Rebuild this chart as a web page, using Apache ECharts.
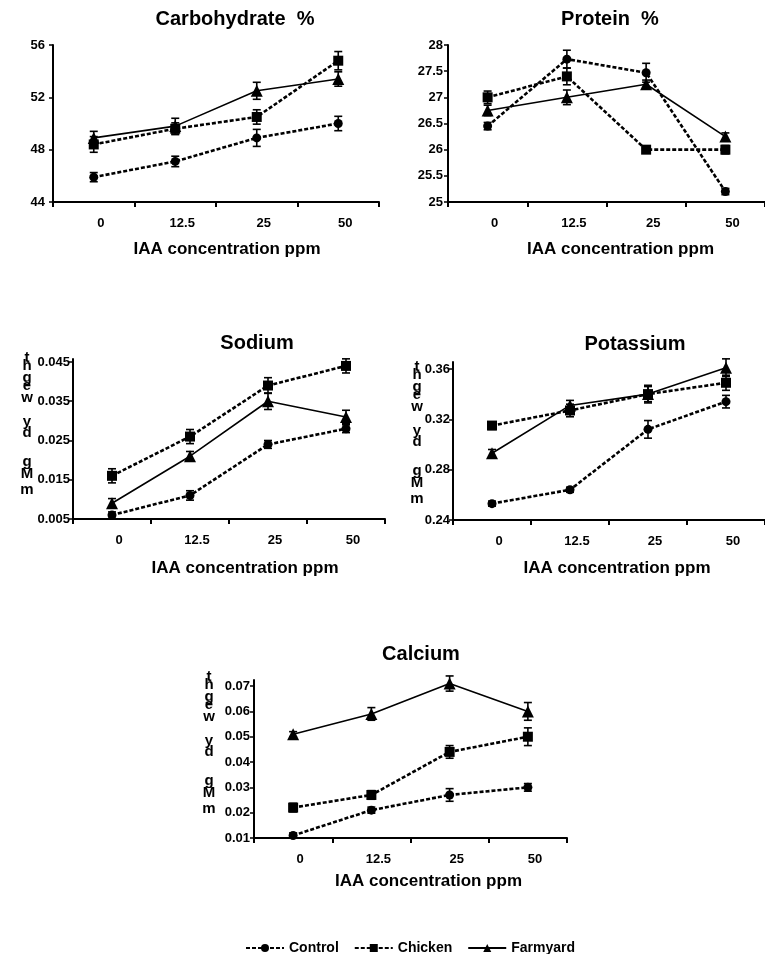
<!DOCTYPE html>
<html><head><meta charset="utf-8">
<script src="https://cdn.jsdelivr.net/npm/echarts@6/dist/echarts.min.js"></script>
<style>html,body{margin:0;padding:0;background:#fff}#c{width:765px;height:954px}</style>
</head><body><div id="c"></div>
<script>
const categories = ['0', '12.5', '25', '50'];
const seriesNames = ['Control', 'Chicken', 'Farmyard'];

// Carbohydrate %
const carbTitle = 'Carbohydrate  %';
const carbTicks = [44, 48, 52, 56];
const carbControl = [45.9, 47.1, 48.9, 50.0];
const carbControlErr = [0.35, 0.4, 0.65, 0.55];
const carbChicken = [48.4, 49.6, 50.5, 54.8];
const carbChickenErr = [0.6, 0.45, 0.55, 0.7];
const carbFarmyard = [48.9, 49.8, 52.5, 53.4];
const carbFarmyardErr = [0.5, 0.6, 0.65, 0.55];

// Protein %
const protTitle = 'Protein  %';
const protTicks = [25, 25.5, 26, 26.5, 27, 27.5, 28];
const protControl = [26.45, 27.73, 27.47, 25.2];
const protControlErr = [0.07, 0.17, 0.18, 0.06];
const protChicken = [27.0, 27.4, 26.0, 26.0];
const protChickenErr = [0.12, 0.16, 0.06, 0.08];
const protFarmyard = [26.75, 27.0, 27.25, 26.25];
const protFarmyardErr = [0.1, 0.14, 0.08, 0.07];

// Sodium
const naTitle = 'Sodium';
const naTicks = [0.005, 0.015, 0.025, 0.035, 0.045];
const naControl = [0.006, 0.011, 0.024, 0.028];
const naControlErr = [0.0008, 0.0012, 0.001, 0.001];
const naChicken = [0.016, 0.026, 0.039, 0.044];
const naChickenErr = [0.0018, 0.0018, 0.002, 0.0018];
const naFarmyard = [0.009, 0.021, 0.035, 0.031];
const naFarmyardErr = [0.0012, 0.0012, 0.0021, 0.0017];

// Potassium
const kTitle = 'Potassium';
const kTicks = [0.24, 0.28, 0.32, 0.36];
const kControl = [0.253, 0.264, 0.312, 0.334];
const kControlErr = [0.002, 0.002, 0.007, 0.005];
const kChicken = [0.315, 0.327, 0.340, 0.349];
const kChickenErr = [0.003, 0.005, 0.007, 0.006];
const kFarmyard = [0.293, 0.331, 0.340, 0.361];
const kFarmyardErr = [0.003, 0.004, 0.006, 0.007];

// Calcium
const caTitle = 'Calcium';
const caTicks = [0.01, 0.02, 0.03, 0.04, 0.05, 0.06, 0.07];
const caControl = [0.011, 0.021, 0.027, 0.030];
const caControlErr = [0.001, 0.0012, 0.0025, 0.0015];
const caChicken = [0.022, 0.027, 0.044, 0.050];
const caChickenErr = [0.0017, 0.0017, 0.0025, 0.0035];
const caFarmyard = [0.051, 0.059, 0.071, 0.060];
const caFarmyardErr = [0.001, 0.0025, 0.003, 0.0035];

const xAxisName = 'IAA concentration ppm';
const yAxisLetters = ['t', 'h', 'g', 'e', 'w', 'y', 'd', 'g', 'M', 'm'];

const FONT = '"Liberation Sans", Arial, sans-serif';

const panels = [
  {title: carbTitle, ticks: carbTicks, min: 44, max: 56, data: [carbControl, carbChicken, carbFarmyard], err: [carbControlErr, carbChickenErr, carbFarmyardErr],
   grid: {left: 53, top: 45, width: 326, height: 157}, titleX: 230, titleY: 4, namePad: 22, nameGap: 39, labelMargin: 8, yLetters: null},
  {title: protTitle, ticks: protTicks, min: 25, max: 28, data: [protControl, protChicken, protFarmyard], err: [protControlErr, protChickenErr, protFarmyardErr],
   grid: {left: 448, top: 45, width: 320, height: 157}, titleX: 605, titleY: 4, namePad: 28, nameGap: 39, labelMargin: 5, yLetters: null},
  {title: naTitle, ticks: naTicks, min: 0.005, max: 0.04576, data: [naControl, naChicken, naFarmyard], err: [naControlErr, naChickenErr, naFarmyardErr],
   grid: {left: 73, top: 359, width: 312, height: 160}, titleX: 252, titleY: 328, namePad: 32, nameGap: 41, labelMargin: 3, yLetters: {x: 27, y: 358}},
  {title: kTitle, ticks: kTicks, min: 0.24, max: 0.3655, data: [kControl, kChicken, kFarmyard], err: [kControlErr, kChickenErr, kFarmyardErr],
   grid: {left: 453, top: 362, width: 312, height: 158}, titleX: 630, titleY: 329, namePad: 16, nameGap: 40, labelMargin: 3, yLetters: {x: 417, y: 367}},
  {title: caTitle, ticks: caTicks, min: 0.01, max: 0.0724, data: [caControl, caChicken, caFarmyard], err: [caControlErr, caChickenErr, caFarmyardErr],
   grid: {left: 254, top: 680, width: 313, height: 158}, titleX: 416, titleY: 639, namePad: 36, nameGap: 35, labelMargin: 4, yLetters: {x: 209, y: 677}}
];

const letterOffsets = [0, 8, 20, 28, 40, 64, 75, 104, 116, 132];

const styles = [
  {symbol: 'circle', symbolSize: 9, lineType: [4, 2], lineWidth: 2.6},
  {symbol: 'rect', symbolSize: 10, lineType: [4, 2], lineWidth: 2.6},
  {symbol: 'triangle', symbolSize: 12, lineType: 'solid', lineWidth: 1.6}
];

function errRender(params, api) {
  const x = api.value(0);
  const lo = api.coord([x, api.value(1)]);
  const hi = api.coord([x, api.value(2)]);
  const w = 4;
  const st = {stroke: '#000', lineWidth: 1.6};
  return {type: 'group', children: [
    {type: 'line', shape: {x1: lo[0], y1: lo[1], x2: hi[0], y2: hi[1]}, style: st},
    {type: 'line', shape: {x1: lo[0] - w, y1: lo[1], x2: lo[0] + w, y2: lo[1]}, style: st},
    {type: 'line', shape: {x1: hi[0] - w, y1: hi[1], x2: hi[0] + w, y2: hi[1]}, style: st}
  ]};
}

const grids = [], xAxes = [], yAxes = [], series = [], titles = [], graphics = [];
panels.forEach((p, i) => {
  grids.push(p.grid);
  titles.push({text: p.title, left: p.titleX, top: p.titleY, textAlign: 'center',
    textStyle: {fontFamily: FONT, fontWeight: 'bold', fontSize: 20, color: '#000'}});
  xAxes.push({type: 'category', gridIndex: i, data: categories, boundaryGap: true,
    name: xAxisName, nameLocation: 'middle', nameGap: p.nameGap,
    nameTextStyle: {fontFamily: FONT, fontWeight: 'bold', fontSize: 17, color: '#000', padding: [0, 0, 0, p.namePad]},
    axisLine: {show: true, lineStyle: {color: '#000', width: 2}},
    axisTick: {show: true, length: 5, lineStyle: {color: '#000', width: 2}},
    axisLabel: {fontFamily: FONT, fontWeight: 'bold', fontSize: 13, color: '#000', margin: 15, padding: [0, 0, 0, 14]},
    splitLine: {show: false}});
  yAxes.push({type: 'value', gridIndex: i, min: p.min, max: p.max,
    axisLine: {show: true, lineStyle: {color: '#000', width: 2}},
    axisTick: {show: true, length: 4, customValues: p.ticks, lineStyle: {color: '#000', width: 1.5}},
    axisLabel: {fontFamily: FONT, fontWeight: 'bold', fontSize: 13, color: '#000', margin: p.labelMargin, customValues: p.ticks},
    splitLine: {show: false}});
  p.data.forEach((vals, s) => {
    const errs = p.err[s];
    series.push({type: 'custom', name: seriesNames[s] + ' err', xAxisIndex: i, yAxisIndex: i,
      renderItem: errRender, encode: {x: 0, y: [1, 2]}, z: 2, silent: true, clip: false,
      data: vals.map((v, k) => [k, v - errs[k], v + errs[k]])});
    series.push({type: 'line', name: seriesNames[s], xAxisIndex: i, yAxisIndex: i, data: vals,
      symbol: styles[s].symbol, symbolSize: styles[s].symbolSize, showSymbol: true, z: 3, clip: false,
      itemStyle: {color: '#000'},
      lineStyle: {color: '#000', width: styles[s].lineWidth, type: styles[s].lineType}});
  });
  if (p.yLetters) {
    yAxisLetters.forEach((ch, k) => {
      graphics.push({type: 'text', x: p.yLetters.x, y: p.yLetters.y + letterOffsets[k],
        style: {text: ch, font: 'bold 15px ' + FONT, fill: '#000', align: 'center', verticalAlign: 'middle'}});
    });
  }
});

const chart = echarts.init(document.getElementById('c'), null, {renderer: 'canvas'});
chart.setOption({
  animation: false,
  backgroundColor: '#fff',
  title: titles,
  grid: grids,
  xAxis: xAxes,
  yAxis: yAxes,
  legend: {data: seriesNames, left: 240, top: 936, itemWidth: 38, itemHeight: 10, itemGap: 15,
    textStyle: {fontFamily: FONT, fontWeight: 'bold', fontSize: 14, color: '#000'}},
  graphic: graphics,
  series: series
});
</script></body></html>
